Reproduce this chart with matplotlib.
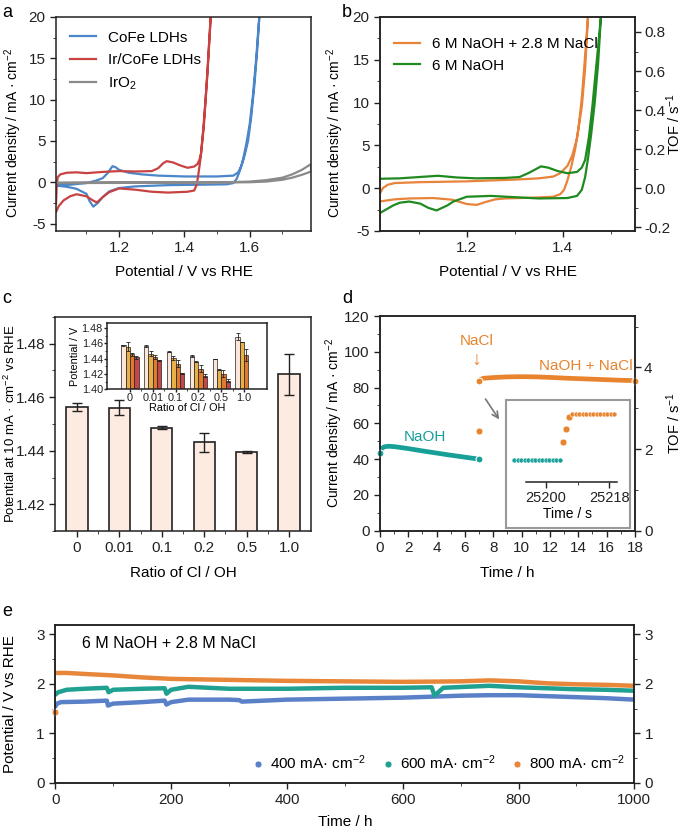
import numpy as np
import matplotlib
matplotlib.use('Agg')
import matplotlib.pyplot as plt
from matplotlib.ticker import MultipleLocator, FixedLocator

# ---------------- data ----------------
# a: CV curves (forward then backward branch)
cofe_x = [1.007, 1.05, 1.1, 1.13, 1.15, 1.165, 1.18, 1.19, 1.2, 1.23, 1.27, 1.32, 1.4, 1.5, 1.55, 1.565,
          1.575, 1.585, 1.595, 1.605, 1.615, 1.623, 1.63,
          1.62, 1.61, 1.6, 1.59, 1.58, 1.57, 1.56, 1.55, 1.53, 1.45, 1.35, 1.25, 1.2, 1.17, 1.15, 1.135,
          1.121, 1.11, 1.1, 1.07, 1.04, 1.007]
cofe_y = [-0.35, -0.3, -0.1, 0.2, 0.5, 1.1, 1.95, 1.8, 1.5, 1.15, 0.95, 0.8, 0.7, 0.7, 0.8, 1.2,
          2.0, 3.3, 5.0, 8.0, 12.0, 16.0, 20.3,
          15.0, 10.5, 7.0, 4.7, 2.8, 1.4, 0.4, -0.1, -0.25, -0.3, -0.35, -0.5, -0.7, -1.1, -1.8, -2.5,
          -2.95, -2.3, -1.4, -0.8, -0.55, -0.4]
ir_x = [1.007, 1.009, 1.012, 1.02, 1.04, 1.07, 1.1, 1.15, 1.2, 1.25, 1.3, 1.32, 1.335, 1.346, 1.365,
        1.39, 1.41, 1.43, 1.44, 1.446, 1.451, 1.457, 1.465, 1.472, 1.481,
        1.47, 1.46, 1.45, 1.443, 1.438, 1.43, 1.41, 1.35, 1.3, 1.25, 1.2, 1.17, 1.15, 1.132, 1.12,
        1.1, 1.07, 1.05, 1.03, 1.015, 1.007]
ir_y = [-2.6, -0.5, 0.6, 0.95, 1.15, 1.2, 1.1, 1.25, 1.35, 1.3, 1.35, 1.7, 2.3, 2.55, 2.4,
        2.0, 1.75, 1.9, 2.2, 2.7, 3.5, 6.0, 10.0, 14.0, 20.3,
        13.0, 7.0, 3.0, 1.0, -0.3, -1.0, -1.15, -1.25, -1.15, -0.9, -0.75, -1.2, -1.8, -2.45, -2.2,
        -1.7, -1.45, -1.7, -2.2, -2.9, -3.6]
iro2_x = [1.007, 1.2, 1.4, 1.55, 1.6, 1.65, 1.7, 1.73, 1.76, 1.788,
          1.788, 1.76, 1.73, 1.7, 1.65, 1.6, 1.4, 1.2, 1.007]
iro2_y = [-0.05, 0.0, 0.0, 0.02, 0.08, 0.25, 0.55, 0.95, 1.5, 2.2,
          1.3, 0.9, 0.55, 0.3, 0.08, 0.0, -0.05, -0.08, -0.1]

# b: CV in two electrolytes
nacl_x = [1.019, 1.025, 1.035, 1.05, 1.1, 1.2, 1.3, 1.35, 1.38, 1.395, 1.41, 1.42, 1.43, 1.44, 1.447, 1.453,
          1.447, 1.44, 1.433, 1.426, 1.418, 1.41, 1.403, 1.395, 1.38, 1.34, 1.28, 1.26, 1.24, 1.221, 1.2,
          1.17, 1.13, 1.08, 1.05, 1.019]
nacl_y = [-0.6, 0.0, 0.4, 0.6, 0.7, 0.8, 1.0, 1.15, 1.35, 1.75, 2.6, 3.8, 5.8, 9.5, 14.0, 20.1,
          15.5, 10.5, 7.0, 4.5, 2.5, 0.9, -0.2, -0.7, -1.0, -1.1, -1.2, -1.3, -1.6, -1.95, -1.85,
          -1.35, -1.15, -1.2, -1.3, -1.55]
naoh_x = [1.019, 1.06, 1.1, 1.14, 1.18, 1.22, 1.28, 1.31, 1.33, 1.355, 1.37, 1.39, 1.41, 1.43, 1.44,
          1.447, 1.455, 1.462, 1.468, 1.474, 1.48,
          1.474, 1.467, 1.46, 1.453, 1.447, 1.44, 1.43, 1.41, 1.35, 1.3, 1.25, 1.2, 1.172, 1.16, 1.137,
          1.12, 1.103, 1.08, 1.06, 1.047, 1.019]
naoh_y = [1.1, 1.15, 1.3, 1.45, 1.25, 1.15, 1.2, 1.3, 1.8, 2.55, 2.4, 2.0, 1.75, 1.9, 2.4,
          3.3, 6.0, 9.5, 13.0, 16.5, 20.1,
          14.5, 10.0, 6.5, 3.5, 1.3, -0.2, -0.9, -1.15, -1.2, -1.05, -0.9, -1.0, -1.56, -2.0, -2.6,
          -2.3, -1.8, -1.56, -1.7, -2.0, -2.9]

# c: potential at 10 mA cm-2 vs Cl/OH ratio
ratios = ['0', '0.01', '0.1', '0.2', '0.5', '1.0']
pot_10 = [1.4565, 1.4560, 1.4486, 1.4432, 1.4395, 1.4686]
pot_10_err = [0.0015, 0.0028, 0.0005, 0.0035, 0.0004, 0.0077]
# c inset: four current densities per ratio
ins_1 = [1.4575, 1.4560, 1.4490, 1.4435, 1.4397, 1.4685]
ins_1_err = [0.0008, 0.0015, 0.0003, 0.0018, 0.0003, 0.0045]
ins_2 = [1.4555, 1.4465, 1.4405, 1.4360, 1.4255, 1.4615]
ins_2_err = [0.0060, 0.0030, 0.0030, 0.0004, 0.0008, 0.0005]
ins_3 = [1.4455, 1.4420, 1.4330, 1.4270, 1.4205, 1.4445]
ins_3_err = [0.0020, 0.0025, 0.0045, 0.0045, 0.0040, 0.0080]
ins_4 = [1.4415, 1.4375, 1.4210, 1.4175, 1.4110]
ins_4_err = [0.0020, 0.0010, 0.0005, 0.0020, 0.0020]

# d: chronoamperometry
naoh_t = [0.0, 0.1, 0.3, 0.6, 1.0, 2.0, 3.0, 4.0, 5.0, 6.0, 7.0]
naoh_j = [43.2, 45.8, 46.9, 47.2, 47.0, 45.9, 44.6, 43.4, 42.2, 41.1, 40.0]
jump_t = [7.0]
jump_j = [56.0]
mix_t = [7.0, 7.1, 7.3, 8.0, 9.0, 10.0, 11.0, 12.0, 13.0, 14.0, 15.0, 16.0, 17.0, 18.0]
mix_j = [83.5, 84.6, 85.2, 85.6, 86.0, 86.1, 86.0, 85.7, 85.3, 85.0, 84.7, 84.4, 84.1, 83.9]
# d inset (seconds)
ins_t_naoh = [25191, 25192, 25193, 25194, 25195, 25196, 25197, 25198, 25199, 25200, 25201, 25202,
              25203, 25204]
ins_j_naoh = [40, 40, 40, 40, 40, 40, 40, 40, 40, 40, 40, 40, 40, 40]
ins_t_step = [25204.8, 25205.8, 25206.6]
ins_j_step = [57.3, 70.7, 81.7]
ins_t_mix = [25207.5, 25208.5, 25209.5, 25210.5, 25211.5, 25212.5, 25213.5, 25214.5, 25215.5,
             25216.5, 25217.5, 25218.5, 25219.5]
ins_j_mix = [85, 85, 85, 85, 85, 85, 85, 85, 85, 85, 85, 85, 85]

# e: long-term stability
t400 = [0, 3, 10, 50, 89, 91, 100, 150, 189, 192, 200, 230, 300, 318, 322, 400, 500, 600, 650, 700,
        750, 800, 850, 900, 950, 1000]
v400 = [1.54, 1.60, 1.63, 1.64, 1.66, 1.56, 1.60, 1.63, 1.66, 1.58, 1.63, 1.68, 1.68, 1.67, 1.64,
        1.68, 1.70, 1.72, 1.74, 1.76, 1.77, 1.77, 1.75, 1.73, 1.71, 1.68]
t600 = [0, 5, 20, 50, 89, 92, 100, 150, 189, 192, 200, 230, 300, 400, 500, 600, 650, 655, 670, 750,
        800, 850, 900, 950, 1000]
v600 = [1.78, 1.83, 1.88, 1.90, 1.92, 1.83, 1.88, 1.90, 1.91, 1.80, 1.88, 1.94, 1.90, 1.90, 1.92,
        1.92, 1.93, 1.76, 1.92, 1.96, 1.93, 1.91, 1.89, 1.88, 1.86]
t800 = [3, 20, 50, 100, 150, 200, 300, 400, 500, 600, 700, 750, 800, 850, 900, 950, 1000]
v800 = [2.22, 2.22, 2.20, 2.17, 2.13, 2.10, 2.08, 2.06, 2.05, 2.04, 2.05, 2.07, 2.05, 2.01, 1.99,
        1.98, 1.96]
t800_first = [0]
v800_first = [1.42]

# ---------------- style ----------------
plt.rcParams['font.family'] = ['Liberation Sans', 'DejaVu Sans']
plt.rcParams['font.size'] = 11
plt.rcParams['mathtext.fontset'] = 'custom'
plt.rcParams['mathtext.rm'] = 'Liberation Sans'
plt.rcParams['mathtext.default'] = 'regular'
plt.rcParams['axes.unicode_minus'] = False
plt.rcParams['axes.linewidth'] = 1.1
plt.rcParams['axes.edgecolor'] = '#222222'
plt.rcParams['xtick.major.size'] = 4
plt.rcParams['ytick.major.size'] = 4
plt.rcParams['xtick.minor.size'] = 2.2
plt.rcParams['ytick.minor.size'] = 2.2
plt.rcParams['xtick.major.width'] = 1.0
plt.rcParams['ytick.major.width'] = 1.0
plt.rcParams['xtick.color'] = '#222222'
plt.rcParams['ytick.color'] = '#222222'

jlabel = 'Current density / mA · cm$^{-2}$'
jsize = 10

fig = plt.figure(figsize=(6.85, 8.33), dpi=100)

# ---------------- a ----------------
ax = fig.add_axes([0.0818, 0.7227, 0.3723, 0.2569])
ax.plot(cofe_x, cofe_y, color='#4A86C8', lw=1.6, label='CoFe LDHs')
ax.plot(ir_x, ir_y, color='#C94242', lw=1.6, label='Ir/CoFe LDHs')
ax.plot(iro2_x, iro2_y, color='#8A8A8A', lw=1.6, label='IrO$_2$')
ax.set_xlim(1.007, 1.788)
ax.set_ylim(-5.9, 20)
ax.set_xticks([1.2, 1.4, 1.6])
ax.xaxis.set_minor_locator(FixedLocator([1.1, 1.3, 1.5, 1.7]))
ax.set_yticks([-5, 0, 5, 10, 15, 20])
ax.yaxis.set_minor_locator(MultipleLocator(2.5))
ax.set_xlabel('Potential / V vs RHE')
ax.set_ylabel(jlabel, fontsize=jsize)
ax.xaxis.set_label_coords(0.5, -0.16)
ax.yaxis.set_label_coords(-0.125, 0.46)
ax.legend(loc='upper left', bbox_to_anchor=(0.0, 1.0), frameon=False, handlelength=1.7,
          labelspacing=0.55, borderaxespad=0.5)

# ---------------- b ----------------
ax = fig.add_axes([0.5547, 0.7227, 0.3723, 0.2569])
ax.plot(nacl_x, nacl_y, color='#E8843A', lw=1.6, label='6 M NaOH + 2.8 M NaCl')
ax.plot(naoh_x, naoh_y, color='#1F8A1F', lw=1.6, label='6 M NaOH')
ax.set_xlim(1.019, 1.551)
ax.set_ylim(-5, 20)
ax.set_xticks([1.2, 1.4])
ax.xaxis.set_minor_locator(FixedLocator([1.1, 1.3, 1.5]))
ax.set_yticks([-5, 0, 5, 10, 15, 20])
ax.yaxis.set_minor_locator(MultipleLocator(2.5))
ax.set_xlabel('Potential / V vs RHE')
ax.set_ylabel(jlabel, fontsize=jsize)
ax.xaxis.set_label_coords(0.5, -0.16)
ax.yaxis.set_label_coords(-0.135, 0.46)
ax.legend(loc='upper left', bbox_to_anchor=(0.0, 0.97), frameon=False, handlelength=1.7,
          labelspacing=0.5, borderaxespad=0.5)
k = 0.8 / 18.25
ax2 = ax.twinx()
ax2.set_ylim(-5 * k, 20 * k)
ax2.set_yticks([-0.2, 0.0, 0.2, 0.4, 0.6, 0.8])
ax2.set_yticklabels(['-0.2', '0.0', '0.2', '0.4', '0.6', '0.8'])
ax2.yaxis.set_minor_locator(MultipleLocator(0.1))
ax2.tick_params(axis='y', pad=2.5)
ax2.set_ylabel('TOF / s$^{-1}$', fontsize=10.5)
ax2.yaxis.set_label_coords(1.117, 0.5)

# ---------------- c ----------------
ax = fig.add_axes([0.0803, 0.3625, 0.3737, 0.257])
pos = np.arange(len(ratios))
ax.bar(pos, pot_10, width=0.5, color='#FDEAE1', edgecolor='#222222', lw=1.2, zorder=2)
ax.errorbar(pos, pot_10, yerr=pot_10_err, fmt='none', ecolor='#222222', elinewidth=1.0,
            capsize=3.5, capthick=1.0, zorder=3)
ax.set_xlim(-0.52, 5.52)
ax.set_ylim(1.41, 1.49)
ax.set_xticks(pos)
ax.set_xticklabels(ratios)
ax.xaxis.set_minor_locator(FixedLocator(pos[:-1] + 0.5))
ax.set_yticks([1.42, 1.44, 1.46, 1.48])
ax.yaxis.set_minor_locator(MultipleLocator(0.01))
ax.tick_params(axis='y', pad=2.5)
ax.set_xlabel('Ratio of Cl / OH')
ax.set_ylabel('Potential at 10 mA · cm$^{-2}$ vs RHE', fontsize=9.5)
ax.xaxis.set_label_coords(0.5, -0.164)
ax.yaxis.set_label_coords(-0.145, 0.5)

axi = fig.add_axes([0.1562, 0.5327, 0.2336, 0.0792])
w = 0.19
ins_cols = ['#FBE6DB', '#E8B048', '#E07B2C', '#C2464A']
ins_vals = [ins_1, ins_2, ins_3, ins_4]
ins_errs = [ins_1_err, ins_2_err, ins_3_err, ins_4_err]
for i in range(4):
    xp = np.arange(len(ins_vals[i])) + (i - 1.5) * w
    axi.bar(xp, ins_vals[i], width=w, color=ins_cols[i], edgecolor='#222222', lw=0.5, zorder=2)
    axi.errorbar(xp, ins_vals[i], yerr=ins_errs[i], fmt='none', ecolor='#222222', elinewidth=0.6,
                 capsize=1.2, capthick=0.6, zorder=3)
axi.set_xlim(-1.0, 6.0)
axi.set_ylim(1.40, 1.486)
axi.set_xticks(pos)
axi.set_xticklabels(ratios, fontsize=7.8)
axi.xaxis.set_minor_locator(FixedLocator(pos[:-1] + 0.5))
axi.set_yticks([1.40, 1.42, 1.44, 1.46, 1.48])
axi.set_yticklabels(['1.40', '1.42', '1.44', '1.46', '1.48'], fontsize=7.8)
axi.yaxis.set_minor_locator(MultipleLocator(0.01))
axi.tick_params(length=2, pad=1)
axi.tick_params(which='minor', length=1.2)
axi.set_xlabel('Ratio of Cl / OH', fontsize=7.8, labelpad=0)
axi.set_ylabel('Potential / V', fontsize=7.8, labelpad=1)

# ---------------- d ----------------
ax = fig.add_axes([0.5547, 0.3629, 0.3723, 0.2577])
teal = '#17A098'
orng = '#E8832E'
ax.plot(naoh_t, naoh_j, color=teal, lw=3.4, solid_capstyle='round', zorder=2)
ax.plot([naoh_t[0], naoh_t[-1]], [naoh_j[0], naoh_j[-1]], 'o', color=teal, ms=5, mec='white',
        mew=0.8, zorder=3, clip_on=False)
ax.plot(mix_t, mix_j, color=orng, lw=3.4, solid_capstyle='round', zorder=2)
ax.plot([mix_t[0], mix_t[-1]], [mix_j[0], mix_j[-1]], 'o', color=orng, ms=5, mec='white',
        mew=0.8, zorder=3, clip_on=False)
ax.plot(jump_t, jump_j, 'o', color=orng, ms=5, mec='white', mew=0.6, zorder=3)
ax.set_xlim(0, 18)
ax.set_ylim(0, 120)
ax.set_xticks(np.arange(0, 19, 2))
ax.xaxis.set_minor_locator(MultipleLocator(1))
ax.set_yticks(np.arange(0, 121, 20))
ax.yaxis.set_minor_locator(MultipleLocator(10))
ax.set_xlabel('Time / h')
ax.set_ylabel(jlabel, fontsize=jsize)
ax.xaxis.set_label_coords(0.5, -0.164)
ax.yaxis.set_label_coords(-0.138, 0.5)
ax.text(3.18, 52.5, 'NaOH', color=teal, ha='center', va='center')
ax.text(6.83, 106.2, 'NaCl', color=orng, ha='center', va='center')
ax.text(6.83, 95.0, '↓', color=orng, ha='center', va='center', fontsize=14)
ax.text(14.54, 92.1, 'NaOH + NaCl', color=orng, ha='center', va='center')
ax.annotate('', xy=(8.52, 60.9), xytext=(7.34, 74.9),
            arrowprops=dict(arrowstyle='->', color='#777777', lw=1.2))
ax2 = ax.twinx()
ax2.set_ylim(0, 5.26)
ax2.set_yticks([0, 2, 4])
ax2.yaxis.set_minor_locator(FixedLocator([1, 3, 5]))
ax2.tick_params(axis='y', pad=2.5)
ax2.set_ylabel('TOF / s$^{-1}$', fontsize=10.5)
ax2.yaxis.set_label_coords(1.117, 0.5)

# inset box
box = fig.add_axes([0.7383, 0.3665, 0.1814, 0.1533])
box.set_xticks([])
box.set_yticks([])
for s in box.spines.values():
    s.set_color('#999999')
    s.set_linewidth(1.5)

axd = fig.add_axes([0.7445, 0.421, 0.1679, 0.0928])
axd.patch.set_alpha(0)
axd.scatter(ins_t_naoh, ins_j_naoh, s=13, color=teal, edgecolor='white', linewidth=0.4, zorder=3)
axd.scatter(ins_t_step, ins_j_step, s=24, color=orng, edgecolor='white', linewidth=0.4, zorder=3)
axd.scatter(ins_t_mix, ins_j_mix, s=13, color=orng, edgecolor='white', linewidth=0.4, zorder=3)
axd.set_xlim(25189.8, 25222.5)
axd.set_ylim(18.2, 93.8)
for s in ['left', 'right', 'top']:
    axd.spines[s].set_visible(False)
axd.spines['bottom'].set_bounds(25194.3, 25220.2)
axd.set_yticks([])
axd.set_xticks([25200, 25218])
axd.xaxis.set_minor_locator(FixedLocator([25209]))
axd.tick_params(labelsize=10.5, pad=2)
axd.set_xlabel('Time / s', fontsize=10, labelpad=2)

# ---------------- e ----------------
ax = fig.add_axes([0.0807, 0.0604, 0.8453, 0.1893])
c400 = '#5A80C8'
c600 = '#1FA090'
c800 = '#E8873A'
ax.plot(t400, v400, color=c400, lw=3.2, solid_capstyle='round', zorder=2)
ax.plot(t600, v600, color=c600, lw=3.2, solid_capstyle='round', zorder=2)
ax.plot(t800, v800, color=c800, lw=3.2, solid_capstyle='round', zorder=2)
ax.plot(t800_first, v800_first, 'o', color=c800, ms=5, mec='white', mew=0.6, zorder=3,
        clip_on=False)
ax.plot([], [], 'o', color=c400, ms=5, mec='white', mew=0.5, label='400 mA· cm$^{-2}$')
ax.plot([], [], 'o', color=c600, ms=5, mec='white', mew=0.5, label='600 mA· cm$^{-2}$')
ax.plot([], [], 'o', color=c800, ms=5, mec='white', mew=0.5, label='800 mA· cm$^{-2}$')
ax.set_xlim(0, 1000)
ax.set_ylim(0, 3.19)
ax.set_xticks(np.arange(0, 1001, 200))
ax.xaxis.set_minor_locator(MultipleLocator(100))
ax.set_yticks([0, 1, 2, 3])
ax.yaxis.set_minor_locator(MultipleLocator(0.5))
ax.set_xlabel('Time / h')
ax.set_ylabel('Potential / V vs RHE')
ax.xaxis.set_label_coords(0.5, -0.205)
ax.yaxis.set_label_coords(-0.066, 0.5)
ax.text(45.6, 2.82, '6 M NaOH + 2.8 M NaCl', ha='left', va='center', fontsize=11.5)
ax.legend(loc='center right', bbox_to_anchor=(0.995, 0.127), ncol=3, frameon=False,
          handlelength=0.8, handletextpad=0.4, columnspacing=1.0, borderaxespad=0)
ax2 = ax.twinx()
ax2.set_ylim(0, 3.19)
ax2.set_yticks([0, 1, 2, 3])
ax2.yaxis.set_minor_locator(MultipleLocator(0.5))

# panel letters
fig.text(2 / 685, 1 - 17 / 833, 'a', fontsize=13, va='baseline')
fig.text(342 / 685, 1 - 17 / 833, 'b', fontsize=13, va='baseline')
fig.text(2 / 685, 1 - 303 / 833, 'c', fontsize=13, va='baseline')
fig.text(342 / 685, 1 - 303 / 833, 'd', fontsize=13, va='baseline')
fig.text(2 / 685, 1 - 616 / 833, 'e', fontsize=13, va='baseline')

fig.savefig('out.png', dpi=100)
